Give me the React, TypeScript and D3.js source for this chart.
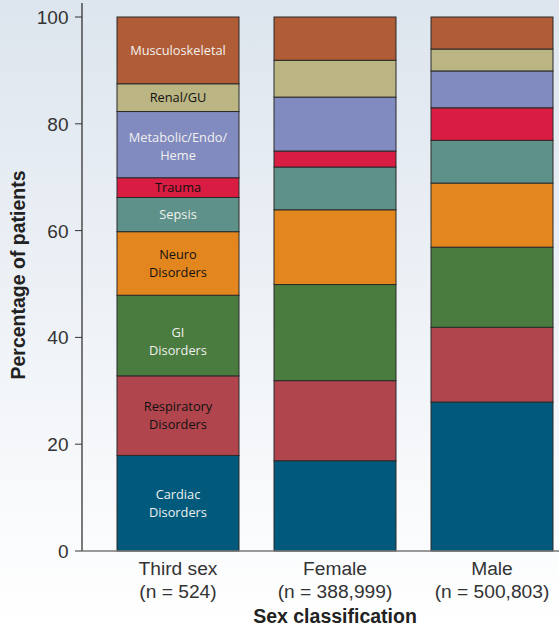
import React from "react";
import * as d3 from "d3";

const groups = ["Third sex", "Female", "Male"];
const groupCounts = ["(n = 524)", "(n = 388,999)", "(n = 500,803)"];
const categories = [
  "Cardiac Disorders",
  "Respiratory Disorders",
  "GI Disorders",
  "Neuro Disorders",
  "Sepsis",
  "Trauma",
  "Metabolic/Endo/Heme",
  "Renal/GU",
  "Musculoskeletal",
];
const thirdSex = [17.9, 14.9, 15.1, 11.9, 6.4, 3.7, 12.4, 5.2, 12.5];
const female = [16.9, 15.0, 18.0, 14.0, 8.0, 3.0, 10.1, 6.9, 8.1];
const male = [27.9, 14.0, 15.0, 12.0, 8.0, 6.1, 6.9, 4.1, 6.0];
const yTicks = [0, 20, 40, 60, 80, 100];

const colors = ["#015a7c", "#b0454d", "#4a7b3f", "#e3861e", "#5e9189", "#d81c42", "#828bbf", "#bbb584", "#b05c36"];
const labelLines = [
  ["Cardiac", "Disorders"],
  ["Respiratory", "Disorders"],
  ["GI", "Disorders"],
  ["Neuro", "Disorders"],
  ["Sepsis"],
  ["Trauma"],
  ["Metabolic/Endo/", "Heme"],
  ["Renal/GU"],
  ["Musculoskeletal"],
];
const labelShift = [0, 0, 6, 0, 0, 0, 2, 0, 0];
const labelColors = ["#f0f0f0", "#111", "#f0f0f0", "#111", "#f0f0f0", "#111", "#f0f0f0", "#111", "#f0f0f0"];

export default function App() {
  const W = 559, H = 628;
  const axisX = 82;
  const y = d3.scaleLinear().domain([0, 100]).range([551, 17]);
  const x = d3.scaleBand().domain(groups).range([axisX, 588]).paddingInner(0.223).paddingOuter(0.223);
  const values = [thirdSex, female, male];
  const rows = groups.map((g, i) => {
    const o: any = { group: g };
    categories.forEach((c, j) => (o[c] = values[i][j]));
    return o;
  });
  const series = d3.stack().keys(categories)(rows);
  const tickFont = "'Liberation Sans', Arial, sans-serif";
  const labelFont = "'Open Sans', 'Noto Sans', sans-serif";

  return (
    <svg width={W} height={H} style={{ position: "absolute", left: 0, top: 0 }}>
      <defs>
        <linearGradient id="bg" x1="0" y1="0" x2="0" y2="1">
          <stop offset="0" stopColor="#dde5ee" />
          <stop offset="1" stopColor="#ffffff" />
        </linearGradient>
      </defs>
      <rect x={0} y={0} width={W} height={H} fill="url(#bg)" />
      {series.map((s, j) =>
        s.map((d, i) => {
          const g = groups[i];
          const x0 = x(g)!;
          return (
            <rect
              key={`${j}-${i}`}
              x={x0}
              y={y(d[1])}
              width={x.bandwidth()}
              height={y(d[0]) - y(d[1])}
              fill={colors[j]}
              stroke="#2a2a2a"
              strokeWidth={1}
            />
          );
        })
      )}
      {series.map((s, j) => {
        const d = s[0];
        const cx = x(groups[0])! + x.bandwidth() / 2;
        const cy = (y(d[0]) + y(d[1])) / 2 + labelShift[j];
        const lines = labelLines[j];
        const lh = 17.5;
        return (
          <text
            key={`l${j}`}
            x={cx}
            textAnchor="middle"
            fontFamily={labelFont}
            fontSize={12.8}
            fill={labelColors[j]}
          >
            {lines.map((t, k) => (
              <tspan key={k} x={cx} y={cy + (k - (lines.length - 1) / 2) * lh + 4.6}>
                {t}
              </tspan>
            ))}
          </text>
        );
      })}
      <line x1={axisX} x2={axisX} y1={3} y2={551} stroke="#333" strokeWidth={1.3} />
      <line x1={axisX} x2={W} y1={551} y2={551} stroke="#777" strokeWidth={1.5} />
      {yTicks.map((t) => (
        <g key={t}>
          <line x1={75} x2={axisX} y1={y(t)} y2={y(t)} stroke="#333" strokeWidth={1} />
          <text x={68.5} y={y(t) + 7} textAnchor="end" fontFamily={tickFont} fontSize={19} fill="#333">
            {t}
          </text>
        </g>
      ))}
      {groups.map((g, i) => (
        <g key={g}>
          <text x={x(g)! + x.bandwidth() / 2} y={575} textAnchor="middle" fontFamily={tickFont} fontSize={19.2} fill="#333">
            {g}
          </text>
          <text x={x(g)! + x.bandwidth() / 2} y={598} textAnchor="middle" fontFamily={tickFont} fontSize={19.2} fill="#333">
            {groupCounts[i]}
          </text>
        </g>
      ))}
      <text x={335} y={623} textAnchor="middle" fontFamily={tickFont} fontSize={19.5} fontWeight="bold" fill="#222">
        Sex classification
      </text>
      <text
        transform={`translate(25, 275) rotate(-90)`}
        textAnchor="middle"
        fontFamily={tickFont}
        fontSize={19.5}
        fontWeight="bold"
        fill="#222"
      >
        Percentage of patients
      </text>
    </svg>
  );
}
